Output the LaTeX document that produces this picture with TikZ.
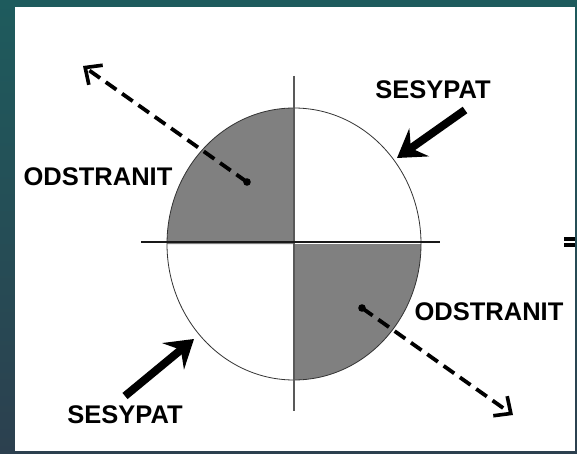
\documentclass[tikz,border=0pt]{standalone}
\usepackage{fontspec}
\setmainfont{Liberation Sans}
\usetikzlibrary{arrows.meta}
\definecolor{bgtop}{HTML}{1E5B5D}
\definecolor{bgbot}{HTML}{2C404F}
\definecolor{quad}{HTML}{808080}
\tikzset{
  lbl/.style={font=\fontsize{25.5}{27}\selectfont\bfseries, text=black, inner sep=0pt},
  movearrow/.style={line width=3.8pt, dash pattern=on 13pt off 7pt, -{Straight Barb[length=13pt,width=24pt,line width=3.6pt]}},
  pusharrow/.style={line width=8pt, -{Stealth[length=27pt,width=34pt,inset=10pt]}},
  axis/.style={line width=1.2pt},
}
\begin{document}
\begin{tikzpicture}[x=1pt,y=-1pt]
\useasboundingbox (0,0) rectangle (577,454);
\shade[top color=bgtop, bottom color=bgbot] (0,0) rectangle (577,454);
\fill[white] (15,7) rectangle (575,451);
% quadrants
\coordinate (c) at (294,244);
\fill[quad] (c) -- (167,244) arc[start angle=180, end angle=270, x radius=127, y radius=136] -- cycle;
\fill[quad] (c) -- (421,244) arc[start angle=0, end angle=90, x radius=127, y radius=136] -- cycle;
\draw[line width=0.8pt, black!80] (c) ellipse[x radius=127, y radius=136];
% axes
\coordinate (vt) at (294,76);
\coordinate (vb) at (294,411);
\coordinate (hl) at (141,242);
\coordinate (hr) at (440,242);
\draw[axis, black!65] (vt) -- (vb);
\draw[axis, black!90] (hl) -- (hr);
% dashed arrows
\coordinate (d1) at (247,182);
\coordinate (t1) at (83,66);
\coordinate (d2) at (362,308);
\coordinate (t2) at (513,415);
\fill (d1) circle (3.8);
\fill (d2) circle (3.8);
\draw[movearrow] (d1) -- (t1);
\draw[movearrow] (d2) -- (t2);
% solid arrows
\coordinate (s1) at (465,110);
\coordinate (p1) at (397,158);
\coordinate (s2) at (125,396);
\coordinate (p2) at (194,339);
\draw[pusharrow] (s1) -- (p1);
\draw[pusharrow] (s2) -- (p2);
% labels
\node[lbl] (sesTop) at (433,90) {SESYPAT};
\node[lbl] (odsL) at (98,177) {ODSTRANIT};
\node[lbl] (odsR) at (489,312) {ODSTRANIT};
\node[lbl] (sesBot) at (125,415) {SESYPAT};
% equals sign fragment
\coordinate (e1) at (564,237);
\coordinate (e2) at (564,243);
\fill (e1) rectangle (575,241);
\fill (e2) rectangle (575,247);
\end{tikzpicture}
\end{document}
